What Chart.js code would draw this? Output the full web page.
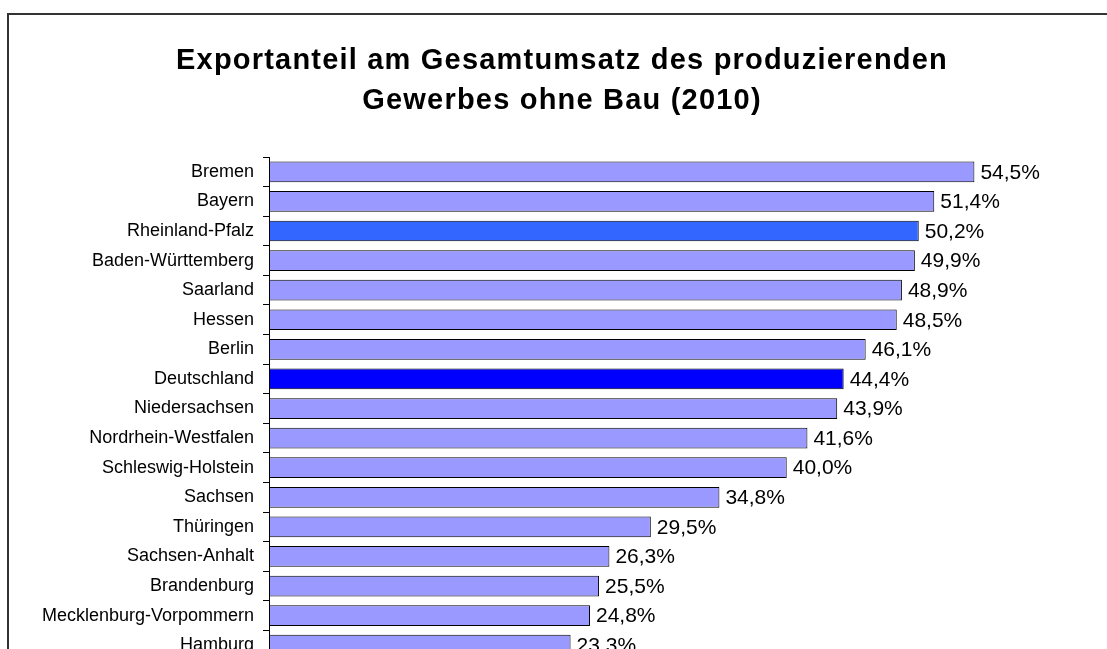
<!DOCTYPE html>
<html>
<head>
<meta charset="utf-8">
<script src="https://cdn.jsdelivr.net/npm/chart.js@4"></script>
<style>
  html, body { margin: 0; padding: 0; background: #fff; overflow: hidden; }
  #frame { position: absolute; left: 7px; top: 13px; width: 1200px; height: 800px;
           border-top: 2px solid #333; border-left: 2px solid #333; }
  #chart { position: absolute; left: 0; top: 0; }
</style>
</head>
<body>
<div id="frame"></div>
<canvas id="chart" width="1107" height="680"></canvas>
<script>
var laender = ['Bremen', 'Bayern', 'Rheinland-Pfalz', 'Baden-Württemberg', 'Saarland', 'Hessen',
  'Berlin', 'Deutschland', 'Niedersachsen', 'Nordrhein-Westfalen', 'Schleswig-Holstein',
  'Sachsen', 'Thüringen', 'Sachsen-Anhalt', 'Brandenburg', 'Mecklenburg-Vorpommern', 'Hamburg'];
var exportanteil = [54.5, 51.4, 50.2, 49.9, 48.9, 48.5, 46.1, 44.4, 43.9, 41.6, 40.0,
  34.8, 29.5, 26.3, 25.5, 24.8, 23.3];

var FONT = '"Liberation Sans", Arial, sans-serif';

function barColor(name) {
  if (name === 'Deutschland') return '#0000FF';
  if (name === 'Rheinland-Pfalz') return '#3366FF';
  return '#9999FF';
}

function fmt(v) {
  return v.toFixed(1).replace('.', ',') + '%';
}

// the original title is set a bit wider than the canvas font, so add some spacing
var wideTitle = {
  id: 'wideTitle',
  beforeDraw: function (chart) {
    var box = chart.titleBlock;
    if (!box || box._wide) return;
    var draw = box.draw;
    box.draw = function () {
      var prev = this.ctx.letterSpacing;
      this.ctx.letterSpacing = '1.2px';
      draw.apply(this, arguments);
      this.ctx.letterSpacing = prev || '0px';
    };
    box._wide = true;
  }
};

// value labels at the end of each bar
var valueLabels = {
  id: 'valueLabels',
  afterDatasetsDraw: function (chart) {
    var ctx = chart.ctx;
    var meta = chart.getDatasetMeta(0);
    ctx.save();
    ctx.font = '21px ' + FONT;
    ctx.fillStyle = '#000';
    ctx.textAlign = 'left';
    ctx.textBaseline = 'middle';
    meta.data.forEach(function (bar, i) {
      ctx.fillText(fmt(exportanteil[i]), bar.x + 6, bar.y + 1);
    });
    ctx.restore();
  }
};

new Chart(document.getElementById('chart').getContext('2d'), {
  type: 'bar',
  data: {
    labels: laender,
    datasets: [{
      data: exportanteil,
      backgroundColor: laender.map(barColor),
      borderColor: '#000',
      borderWidth: 1,
      borderSkipped: false,
      categoryPercentage: 1,
      barPercentage: 0.7
    }]
  },
  options: {
    indexAxis: 'y',
    responsive: false,
    animation: false,
    layout: { padding: { left: 37, right: 20, top: 0, bottom: 20 } },
    plugins: {
      legend: { display: false },
      tooltip: { enabled: false },
      title: {
        display: true,
        text: ['Exportanteil am Gesamtumsatz des produzierenden', 'Gewerbes ohne Bau (2010)'],
        color: '#000',
        font: { family: FONT, size: 29, weight: 'bold', lineHeight: 1.38 },
        padding: { top: 41, bottom: 36 }
      }
    },
    scales: {
      x: { display: false, min: 0, max: 63.2 },
      y: {
        afterFit: function (scale) { scale.width = 232; },
        grid: { offset: true, drawOnChartArea: false, drawTicks: true, tickLength: 6, color: '#000' },
        border: { display: true, color: '#000', width: 1 },
        ticks: { color: '#000', padding: 9, font: { family: FONT, size: 18 } }
      }
    }
  },
  plugins: [wideTitle, valueLabels]
});
</script>
</body>
</html>
